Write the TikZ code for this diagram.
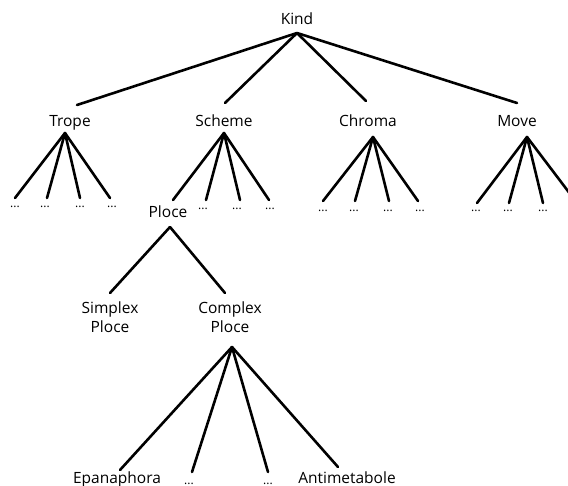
\documentclass[tikz,border=0pt]{standalone}
\usepackage{fontspec}
\setmainfont{Open Sans}
\begin{document}
\begin{tikzpicture}[x=1pt,y=-1pt,
  lbl/.style={anchor=base,inner sep=0pt,font=\fontsize{15.5}{19}\selectfont},
  dots/.style={anchor=base,inner sep=0pt,font=\fontsize{12}{14}\selectfont},
  edge/.style={line width=2.6pt,line cap=round}]
\useasboundingbox (0,0) rectangle (568,486);
\clip (0,0) rectangle (568,486);
% labels
\node[lbl] (kind) at (297,25) {Kind};
\node[lbl] (trope) at (70,127) {Trope};
\node[lbl] (scheme) at (224,127) {Scheme};
\node[lbl] (chroma) at (368,127) {Chroma};
\node[lbl] (move) at (517,127) {Move};
\node[lbl] (ploce) at (168,218) {Ploce};
\node[lbl,align=center] (simplex) at (110,333) {Simplex\\Ploce};
\node[lbl,align=center] (complex) at (230,333) {Complex\\Ploce};
\node[lbl] (epa) at (117,483) {Epanaphora};
\node[lbl] (anti) at (347,483) {Antimetabole};
% dots
\foreach \n/\x/\y in {t1/15/208,t2/45/208,t3/80/208,t4/112/208,
  s2/203/210,s3/237/210,s4/270/210,
  c1/323/212,c2/354/212,c3/388/212,c4/420/212,
  m1/476/212,m2/508/212,m3/543/212,
  b2/189/484,b3/268/484}
  \node[dots] (d\n) at (\x,\y) {...};
% apex and end coordinates
\coordinate (kA) at (297,33);
\coordinate (tT) at (77,105);  \coordinate (tA) at (65,133);
\coordinate (sT) at (225,103); \coordinate (sA) at (224,133);
\coordinate (cT) at (366,101); \coordinate (cA) at (373,137);
\coordinate (mT) at (517,103); \coordinate (mA) at (527,137);
\coordinate (pA) at (170,227);
\coordinate (pL) at (110,293); \coordinate (pR) at (225,293);
\coordinate (xA) at (232,347);
% Kind
\foreach \e in {tT,sT,cT,mT} \draw[edge] (kA) -- (\e);
% Trope
\foreach \x in {15,47,80,110} \draw[edge] (tA) -- (\x,198);
% Scheme
\foreach \x in {173,206,240,269} \draw[edge] (sA) -- (\x,200);
% Chroma
\foreach \x in {323,355,389,418} \draw[edge] (cA) -- (\x,201);
% Move
\foreach \x in {477,509,543,577} \draw[edge] (mA) -- (\x,203);
% Ploce
\draw[edge] (pA) -- (pL);
\draw[edge] (pA) -- (pR);
% Complex Ploce
\draw[edge] (xA) -- (120,470);
\draw[edge] (xA) -- (192,472);
\draw[edge] (xA) -- (268,472);
\draw[edge] (xA) -- (338,467);
\end{tikzpicture}
\end{document}
